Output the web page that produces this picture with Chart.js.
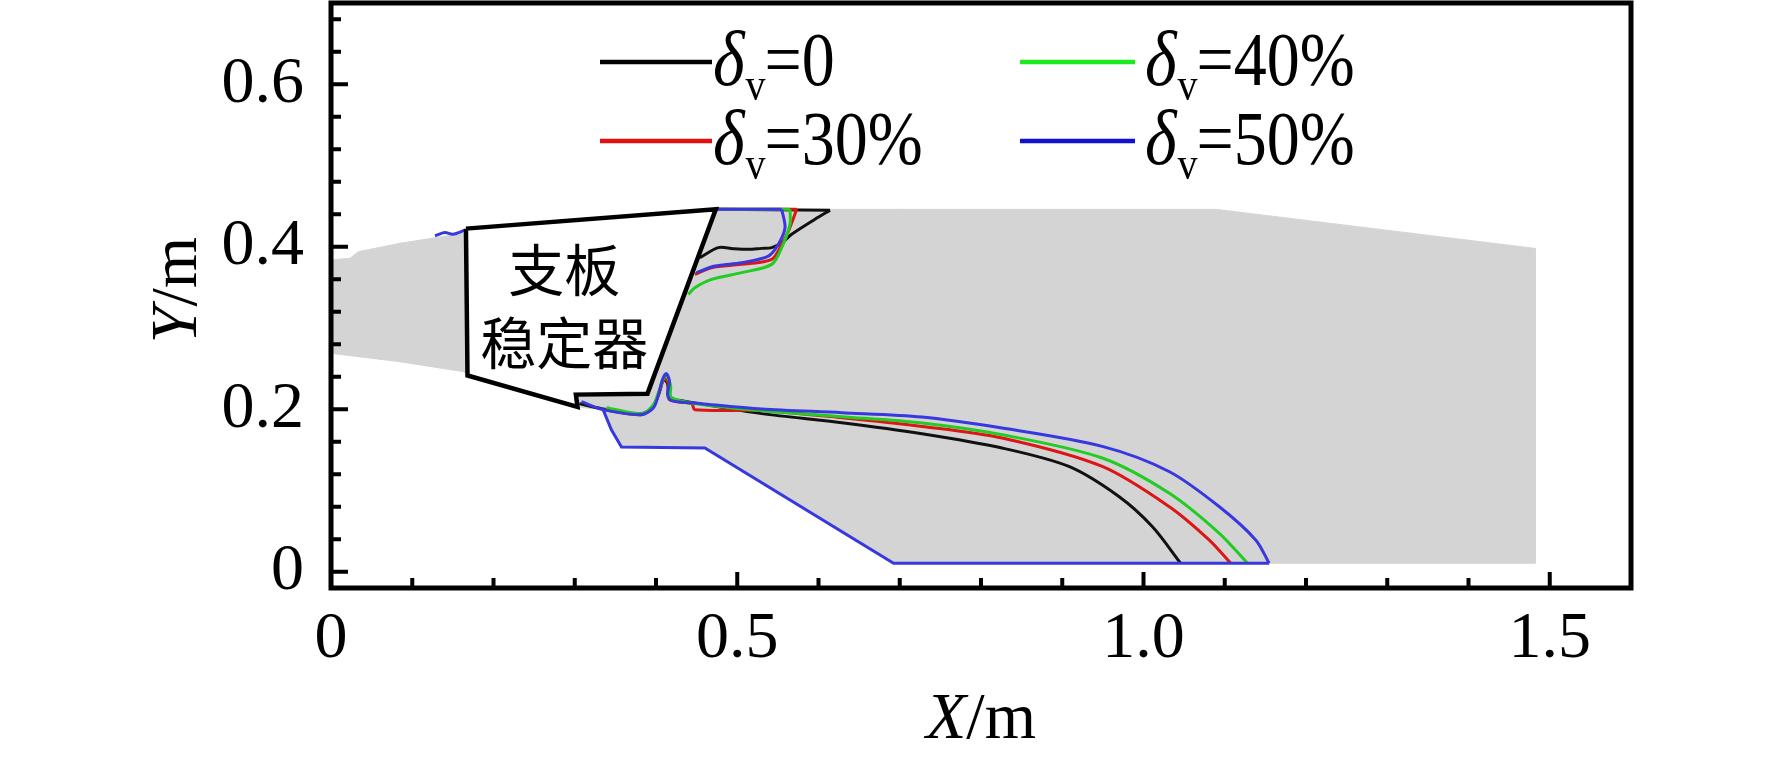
<!DOCTYPE html>
<html>
<head>
<meta charset="utf-8">
<script src="https://cdn.jsdelivr.net/npm/chart.js@4.4.1/dist/chart.umd.min.js"></script>
<style>
  html, body { margin: 0; padding: 0; background: #fff; overflow: hidden; }
  canvas { display: block; }
</style>
</head>
<body>
<canvas id="c" width="1772" height="757"></canvas>
<script>
// ---------------- data ----------------
const xTickValues = [0, 0.5, 1.0, 1.5];
const xTickLabels = ['0', '0.5', '1.0', '1.5'];
const yTickValues = [0, 0.2, 0.4, 0.6];
const yTickLabels = ['0', '0.2', '0.4', '0.6'];
const xMinorTicks = [0.1, 0.2, 0.3, 0.4, 0.6, 0.7, 0.8, 0.9, 1.1, 1.2, 1.3, 1.4];
const yMinorTicks = [0.04, 0.08, 0.12, 0.16, 0.24, 0.28, 0.32, 0.36, 0.44, 0.48, 0.52, 0.56, 0.64, 0.68];

const seriesLabels = ['0', '30%', '40%', '50%'];
const stabilizerLabel = ['支板', '稳定器'];

// gray region (flame / domain area)
const grayRegion = [
  [0, 0.2689], [0, 0.3837], [0.0234, 0.3858], [0.0336, 0.3939], [0.0847, 0.4042], [0.1634, 0.4166],
  [0.4736, 0.4461], [1.09, 0.446], [1.482, 0.398], [1.482, 0.0105], [0.6924, 0.0105],
  [0.4602, 0.1523], [0.3575, 0.1535], [0.3451, 0.1748], [0.3349, 0.1995], [0.3034, 0.2028],
  [0.168, 0.2415], [0.1634, 0.2462], [0.0847, 0.2585], [0, 0.2689]
];

// strut stabilizer outline
const stabilizer = [
  [0.1661, 0.4223], [0.4736, 0.4461], [0.3895, 0.2192], [0.3014, 0.218],
  [0.3034, 0.2028], [0.168, 0.2415], [0.1661, 0.4223]
];

// δv = 0 (black)
const blackTop = [
  [0.454, 0.3866], [0.4767, 0.3989], [0.495, 0.3975], [0.5136, 0.3968], [0.53, 0.398],
  [0.5424, 0.3989], [0.555, 0.405], [0.567, 0.4153], [0.5957, 0.4338], [0.6142, 0.4449]
];
const blackWall = [[0.6142, 0.4449], [0.4746, 0.4461]];
const blackBottom = [
  [0.3057, 0.2069], [0.3328, 0.2007], [0.3821, 0.1946], [0.3969, 0.2044], [0.4043, 0.2217],
  [0.4092, 0.2365], [0.4142, 0.2316], [0.4166, 0.2143], [0.4314, 0.2106], [0.5301, 0.1946],
  [0.6287, 0.1835], [0.7273, 0.1699], [0.8259, 0.1523], [0.9081, 0.1296], [0.9697, 0.0926],
  [1.0108, 0.0556], [1.0457, 0.0105]
];

// δv = 30% (red)
const redTop = [
  [0.4478, 0.366], [0.4684, 0.3742], [0.5054, 0.3783], [0.5424, 0.3845], [0.5547, 0.403],
  [0.563, 0.4193], [0.5732, 0.4461]
];
const redWall = [[0.5732, 0.4461], [0.4746, 0.4461]];
const redBottom = [
  [0.3365, 0.1995], [0.3821, 0.1933], [0.3969, 0.2044], [0.4043, 0.2217], [0.4105, 0.239],
  [0.4154, 0.2304], [0.4166, 0.2118], [0.4438, 0.2069], [0.4478, 0.1995], [0.5301, 0.1983],
  [0.6287, 0.1896], [0.7273, 0.1789], [0.8259, 0.1646], [0.9492, 0.1296], [1.0314, 0.0803],
  [1.0807, 0.0392], [1.1073, 0.0105]
];

// δv = 40% (green)
const greenTop = [
  [0.4397, 0.3413], [0.4478, 0.3496], [0.4684, 0.3598], [0.5054, 0.3681], [0.5424, 0.3783],
  [0.5547, 0.3989], [0.5649, 0.4276], [0.5649, 0.4461]
];
const greenWall = [[0.5649, 0.4461], [0.4746, 0.4461]];
const greenBottom = [
  [0.3389, 0.2019], [0.3821, 0.1946], [0.3969, 0.2057], [0.4043, 0.2242], [0.4117, 0.2414],
  [0.4179, 0.2304], [0.4191, 0.2143], [0.4561, 0.2057], [0.5301, 0.1983], [0.6287, 0.1909],
  [0.7273, 0.1831], [0.8259, 0.1687], [0.9492, 0.14], [1.0314, 0.0968], [1.093, 0.0475],
  [1.1279, 0.0105]
];

// δv = 50% (blue)
const blueTop = [
  [0.4499, 0.3681], [0.4725, 0.3762], [0.5054, 0.3804], [0.5383, 0.3885], [0.5506, 0.403],
  [0.5588, 0.4235], [0.5547, 0.4461]
];
const blueWall = [[0.5547, 0.4461], [0.4746, 0.4461]];
const blueBottom = [
  [0.3082, 0.2093], [0.3349, 0.1995], [0.3821, 0.1933], [0.3969, 0.2019], [0.4031, 0.218],
  [0.408, 0.2365], [0.4129, 0.2439], [0.4166, 0.234], [0.4142, 0.218], [0.4191, 0.2106],
  [0.4561, 0.2069], [0.5301, 0.2004], [0.6287, 0.1958], [0.7273, 0.1905], [0.8259, 0.1769],
  [0.9492, 0.1543], [1.0314, 0.1234], [1.093, 0.0803], [1.1381, 0.0392], [1.1546, 0.0105]
];
const blueBoundary = [
  [1.1546, 0.0105], [0.6924, 0.0105], [0.4602, 0.1523], [0.3575, 0.1535], [0.3451, 0.1748], [0.3349, 0.1995]
];
const blueLeft = [[0.128, 0.4135], [0.14, 0.4175], [0.15, 0.4155], [0.165, 0.4205]];

// ---------------- helpers ----------------
const pts = arr => arr.map(p => ({ x: p[0], y: p[1] }));
const joinParts = (...parts) => {
  const out = [];
  parts.forEach((p, i) => {
    if (i > 0) out.push({ x: p[0][0], y: null });
    out.push(...pts(p));
  });
  return out;
};

const COLORS = { black: '#111111', red: '#dd1515', green: '#22cc22', blue: '#3838e0' };
const legendColors = ['#000000', '#e01010', '#1ee81e', '#1010d0'];
const SERIF = '"Liberation Serif", "Times New Roman", serif';

const curve = (label, data, color, order, tension) => ({
  label, data, showLine: true, borderColor: color, backgroundColor: color,
  borderWidth: 3, pointRadius: 0, tension: tension, spanGaps: false, order, fill: false
});

const datasets = [
  { label: 'region', data: pts(grayRegion), showLine: true, fill: 'shape',
    backgroundColor: '#d4d4d4', borderColor: '#d4d4d4', borderWidth: 1, pointRadius: 0, tension: 0, order: 10 },
  curve('δv=' + seriesLabels[0], joinParts(blackTop, blackBottom), COLORS.black, 4, 0.3),
  curve('wall0', pts(blackWall), COLORS.black, 4, 0),
  curve('δv=' + seriesLabels[1], joinParts(redTop, redBottom), COLORS.red, 3, 0.3),
  curve('wall1', pts(redWall), COLORS.red, 3, 0),
  curve('δv=' + seriesLabels[2], joinParts(greenTop, greenBottom), COLORS.green, 2, 0.3),
  curve('wall2', pts(greenWall), COLORS.green, 2, 0),
  curve('δv=' + seriesLabels[3], joinParts(blueTop, blueBottom, blueLeft), COLORS.blue, 1, 0.3),
  curve('wall3', pts(blueWall), COLORS.blue, 1, 0),
  curve('boundary', pts(blueBoundary), COLORS.blue, 1, 0),
  { label: 'stabilizer', data: pts(stabilizer), showLine: true, fill: 'shape',
    backgroundColor: '#ffffff', borderColor: '#000000', borderWidth: 4.5, borderJoinStyle: 'miter',
    pointRadius: 0, tension: 0, order: 0 }
];

// ---------------- decorations plugin ----------------
const decor = {
  id: 'decor',
  afterDatasetsDraw(chart) {
    const { ctx, scales: { x, y } } = chart;
    ctx.save();
    ctx.fillStyle = '#000';
    ctx.font = '56px "Noto Sans CJK SC"';
    ctx.textAlign = 'center';
    ctx.textBaseline = 'middle';
    const cx = x.getPixelForValue(0.287);
    ctx.fillText(stabilizerLabel[0], cx, y.getPixelForValue(0.372));
    ctx.fillText(stabilizerLabel[1], cx, y.getPixelForValue(0.282));
    ctx.restore();
  },
  afterDraw(chart) {
    const { ctx, chartArea: a, scales: { x, y } } = chart;
    ctx.save();
    // frame
    ctx.strokeStyle = '#000';
    ctx.lineWidth = 5;
    ctx.strokeRect(a.left, a.top, a.right - a.left, a.bottom - a.top);
    // inward ticks
    ctx.lineWidth = 4;
    ctx.beginPath();
    yMinorTicks.forEach(v => { const p = y.getPixelForValue(v); ctx.moveTo(a.left, p); ctx.lineTo(a.left + 10, p); });
    yTickValues.forEach(v => { const p = y.getPixelForValue(v); ctx.moveTo(a.left, p); ctx.lineTo(a.left + 17, p); });
    xMinorTicks.forEach(v => { const p = x.getPixelForValue(v); ctx.moveTo(p, a.bottom); ctx.lineTo(p, a.bottom - 10); });
    xTickValues.forEach(v => { const p = x.getPixelForValue(v); ctx.moveTo(p, a.bottom); ctx.lineTo(p, a.bottom - 16); });
    ctx.stroke();

    // axis titles (italic variable + upright unit)
    const drawTitle = (varName, unit, cxp, base) => {
      ctx.font = 'italic 66px ' + SERIF;
      const w1 = ctx.measureText(varName).width;
      ctx.font = '66px ' + SERIF;
      const w2 = ctx.measureText(unit).width;
      const start = cxp - (w1 + w2) / 2;
      ctx.textAlign = 'left';
      ctx.textBaseline = 'alphabetic';
      ctx.font = 'italic 66px ' + SERIF;
      ctx.fillText(varName, start, base);
      ctx.font = '66px ' + SERIF;
      ctx.fillText(unit, start + w1, base);
    };
    ctx.fillStyle = '#000';
    drawTitle('X', '/m', (a.left + a.right) / 2, 738);
    ctx.save();
    ctx.translate(196, 290);
    ctx.rotate(-Math.PI / 2);
    drawTitle('Y', '/m', 0, 0);
    ctx.restore();

    // legend (2 x 2)
    const cells = [
      { i: 0, lx: 600, rx: 712, tx: 713, ly: 62, base: 85 },
      { i: 2, lx: 1020, rx: 1135, tx: 1145, ly: 62, base: 85 },
      { i: 1, lx: 600, rx: 712, tx: 713, ly: 141, base: 164 },
      { i: 3, lx: 1020, rx: 1135, tx: 1145, ly: 141, base: 164 }
    ];
    cells.forEach(c => {
      ctx.strokeStyle = legendColors[c.i];
      ctx.lineWidth = 4.5;
      ctx.beginPath();
      ctx.moveTo(c.lx, c.ly); ctx.lineTo(c.rx, c.ly);
      ctx.stroke();
      ctx.save();
      ctx.translate(c.tx, c.base);
      ctx.scale(1, 1.15);
      ctx.fillStyle = '#000';
      ctx.textAlign = 'left';
      ctx.textBaseline = 'alphabetic';
      ctx.font = 'italic 68px ' + SERIF;
      ctx.fillText('δ', 0, 0);
      let px = ctx.measureText('δ').width + 1;
      ctx.font = '40px ' + SERIF;
      ctx.fillText('v', px, 13);
      px += ctx.measureText('v').width - 1;
      ctx.font = '66px ' + SERIF;
      ctx.fillText('=' + seriesLabels[c.i], px, 0);
      ctx.restore();
    });
    ctx.restore();
  }
};

new Chart(document.getElementById('c'), {
  type: 'scatter',
  data: { datasets },
  options: {
    responsive: false,
    animation: false,
    devicePixelRatio: 1,
    layout: { padding: { left: 0, top: 3, right: 141, bottom: 0 } },
    plugins: { legend: { display: false }, tooltip: { enabled: false } },
    scales: {
      x: {
        type: 'linear', min: 0, max: 1.6,
        grid: { display: false, drawTicks: false },
        border: { display: false },
        afterBuildTicks: s => { s.ticks = xTickValues.map(v => ({ value: v })); },
        afterFit: s => { s.height = 169; s.paddingLeft = 0; s.paddingRight = 0; },
        ticks: {
          autoSkip: false, maxRotation: 0, padding: 12, color: '#000',
          font: { family: SERIF, size: 66 },
          callback: (v, i) => xTickLabels[i]
        }
      },
      y: {
        type: 'linear', min: -0.02, max: 0.7,
        grid: { display: false, drawTicks: false },
        border: { display: false },
        afterBuildTicks: s => { s.ticks = yTickValues.map(v => ({ value: v })); },
        afterFit: s => { s.width = 331; s.paddingTop = 0; s.paddingBottom = 0; },
        ticks: {
          autoSkip: false, padding: 27, color: '#000',
          font: { family: SERIF, size: 66 },
          callback: (v, i) => yTickLabels[i]
        }
      }
    }
  },
  plugins: [decor]
});
</script>
</body>
</html>
